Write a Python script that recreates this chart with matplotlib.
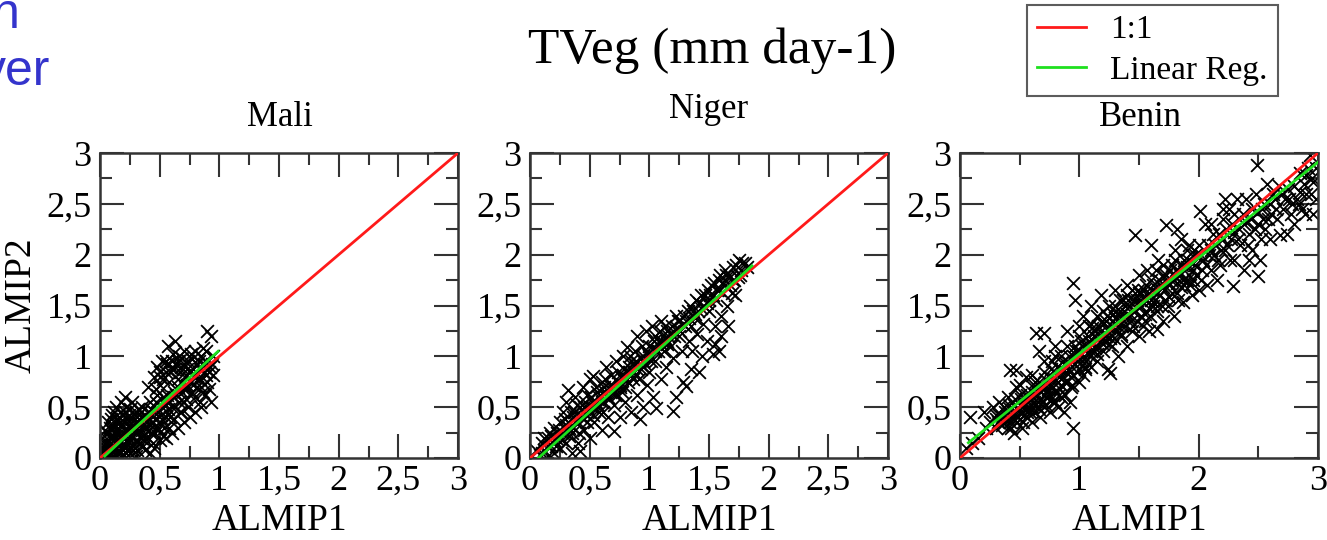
import matplotlib
matplotlib.use('Agg')
import matplotlib.pyplot as plt
from matplotlib.ticker import MultipleLocator
import numpy as np

plt.rcParams['font.family'] = ['Liberation Serif', 'DejaVu Serif']

# ---- data (ALMIP1, ALMIP2) ----
mali_pts = [
    (0.02, 0.02), (0.03, 0.08), (0.05, 0.03), (0.05, 0.15), (0.06, 0.25), (0.07, 0.35), (0.08, 0.05),
    (0.08, 0.2), (0.1, 0.1), (0.1, 0.3), (0.1, 0.42), (0.12, 0.02), (0.12, 0.18), (0.13, 0.5),
    (0.14, 0.28), (0.15, 0.08), (0.15, 0.38), (0.17, 0.15), (0.17, 0.45), (0.18, 0.55), (0.19, 0.25),
    (0.2, 0.03), (0.2, 0.35), (0.21, 0.6), (0.22, 0.12), (0.22, 0.5), (0.24, 0.2), (0.24, 0.42),
    (0.25, 0.05), (0.26, 0.3), (0.27, 0.55), (0.28, 0.15), (0.3, 0.25), (0.3, 0.45), (0.31, 0.08),
    (0.32, 0.35), (0.34, 0.2), (0.35, 0.5), (0.36, 0.12), (0.37, 0.3), (0.38, 0.42), (0.4, 0.2),
    (0.4, 0.7), (0.42, 0.32), (0.42, 0.55), (0.44, 0.15), (0.45, 0.8), (0.45, 0.45), (0.46, 0.25),
    (0.48, 0.62), (0.48, 0.9), (0.5, 0.35), (0.5, 0.72), (0.52, 0.5), (0.52, 0.95), (0.53, 0.22),
    (0.55, 0.85), (0.55, 0.4), (0.56, 0.62), (0.57, 1.1), (0.58, 0.3), (0.58, 0.75), (0.6, 0.95),
    (0.6, 0.5), (0.62, 0.88), (0.62, 0.38), (0.63, 1.15), (0.64, 0.62), (0.65, 0.78), (0.66, 1.0),
    (0.67, 0.45), (0.68, 0.9), (0.7, 0.55), (0.7, 1.05), (0.71, 0.7), (0.72, 0.82), (0.74, 0.5),
    (0.74, 0.95), (0.75, 0.62), (0.76, 1.02), (0.78, 0.72), (0.78, 0.88), (0.8, 0.6), (0.8, 1.05),
    (0.82, 0.78), (0.83, 0.95), (0.84, 0.55), (0.85, 0.7), (0.86, 1.08), (0.87, 0.85), (0.88, 0.62),
    (0.88, 0.95), (0.9, 0.75), (0.9, 1.25), (0.92, 0.9), (0.93, 1.2), (0.93, 0.55), (0.95, 0.82),
    (0.95, 1.0), (0.38, 0.08), (0.45, 0.1), (0.5, 0.18), (0.55, 0.2), (0.6, 0.25), (0.65, 0.3),
    (0.7, 0.35), (0.75, 0.4), (0.8, 0.45), (0.85, 0.5), (0.42, 0.05), (0.3, 0.02), (0.16, 0.05),
    (0.26, 0.1), (0.33, 0.15), (0.04, 0.05), (0.09, 0.12), (0.13, 0.1), (0.19, 0.08),
    (0.03, 0.12), (0.06, 0.06), (0.07, 0.18), (0.09, 0.28), (0.11, 0.22), (0.11, 0.06), (0.13, 0.35),
    (0.14, 0.15), (0.16, 0.25), (0.16, 0.4), (0.18, 0.1), (0.18, 0.32), (0.2, 0.2), (0.21, 0.45),
    (0.23, 0.28), (0.23, 0.08), (0.25, 0.38), (0.27, 0.2), (0.28, 0.32), (0.29, 0.1), (0.31, 0.4),
    (0.33, 0.28), (0.34, 0.45), (0.36, 0.22), (0.39, 0.35), (0.41, 0.45), (0.43, 0.25), (0.46, 0.38),
    (0.47, 0.55), (0.49, 0.3), (0.51, 0.42), (0.54, 0.3), (0.57, 0.48), (0.59, 0.4), (0.61, 0.6),
    (0.63, 0.5), (0.66, 0.55), (0.68, 0.45), (0.69, 0.65), (0.72, 0.58), (0.73, 0.72), (0.77, 0.65),
    (0.79, 0.8), (0.81, 0.7), (0.84, 0.88), (0.86, 0.65), (0.89, 0.82), (0.91, 0.68), (0.94, 0.92),
    (0.5, 0.85), (0.53, 0.78), (0.56, 0.92), (0.59, 0.85), (0.61, 1.02), (0.64, 0.92), (0.67, 0.85),
    (0.69, 0.98), (0.73, 0.88), (0.77, 0.97), (0.81, 0.92), (0.85, 1.0), (0.89, 1.05),
    (0.01, 0.05), (0.02, 0.1), (0.04, 0.18), (0.04, 0.28), (0.06, 0.12), (0.07, 0.02), (0.08, 0.3),
    (0.09, 0.38), (0.1, 0.2), (0.11, 0.32), (0.12, 0.45), (0.13, 0.25), (0.14, 0.05), (0.15, 0.3),
    (0.16, 0.18), (0.17, 0.35), (0.18, 0.22), (0.19, 0.42), (0.2, 0.12), (0.21, 0.28), (0.22, 0.38),
    (0.23, 0.18), (0.24, 0.32), (0.25, 0.48), (0.26, 0.22), (0.27, 0.38), (0.28, 0.08), (0.29, 0.28),
    (0.3, 0.35), (0.31, 0.18), (0.32, 0.48), (0.33, 0.38), (0.35, 0.28), (0.36, 0.4), (0.37, 0.18),
    (0.38, 0.3), (0.4, 0.38), (0.41, 0.28), (0.43, 0.48), (0.44, 0.35), (0.47, 0.3), (0.49, 0.45),
    (0.52, 0.38), (0.55, 0.52), (0.58, 0.55), (0.62, 0.65), (0.65, 0.7), (0.68, 0.75), (0.72, 0.68),
    (0.76, 0.75), (0.8, 0.82), (0.84, 0.78), (0.87, 0.92), (0.91, 0.85), (0.6, 0.88), (0.65, 0.95),
    (0.7, 0.92), (0.75, 0.85), (0.55, 0.95), (0.5, 0.8), (0.53, 0.6), (0.47, 0.68),
]

niger_pts = [
    (0.02, 0.02), (0.05, 0.08), (0.08, 0.03), (0.1, 0.15), (0.12, 0.08), (0.15, 0.2), (0.15, 0.02),
    (0.18, 0.12), (0.2, 0.3), (0.2, 0.05), (0.22, 0.2), (0.25, 0.35), (0.25, 0.1), (0.28, 0.25),
    (0.28, 0.45), (0.3, 0.15), (0.3, 0.55), (0.32, 0.67), (0.32, 0.35), (0.35, 0.05), (0.35, 0.25),
    (0.37, 0.45), (0.38, 0.6), (0.4, 0.15), (0.4, 0.35), (0.42, 0.07), (0.42, 0.5), (0.44, 0.7),
    (0.45, 0.28), (0.47, 0.42), (0.48, 0.62), (0.5, 0.2), (0.5, 0.78), (0.52, 0.5), (0.53, 0.81),
    (0.54, 0.35), (0.56, 0.65), (0.58, 0.45), (0.6, 0.28), (0.6, 0.75), (0.62, 0.55), (0.64, 0.9),
    (0.65, 0.4), (0.67, 0.68), (0.68, 0.82), (0.7, 0.27), (0.7, 0.52), (0.72, 0.95), (0.73, 0.62),
    (0.75, 0.4), (0.76, 0.8), (0.78, 1.0), (0.8, 0.55), (0.8, 0.7), (0.81, 1.09), (0.83, 0.9),
    (0.85, 0.45), (0.86, 0.78), (0.88, 1.05), (0.9, 0.62), (0.9, 1.2), (0.92, 0.38), (0.93, 0.88),
    (0.95, 1.0), (0.95, 0.5), (0.97, 1.25), (0.98, 0.72), (1.0, 1.1), (1.0, 0.85), (1.02, 1.3),
    (1.03, 0.6), (1.05, 0.95), (1.06, 0.49), (1.08, 1.15), (1.1, 1.35), (1.1, 0.78), (1.12, 1.05),
    (1.14, 0.9), (1.15, 1.25), (1.18, 1.1), (1.2, 0.46), (1.2, 0.98), (1.22, 1.4), (1.22, 0.6),
    (1.25, 1.2), (1.27, 1.05), (1.28, 0.75), (1.3, 1.3), (1.31, 0.71), (1.32, 1.45), (1.33, 1.15),
    (1.35, 0.88), (1.36, 1.05), (1.38, 1.38), (1.4, 1.22), (1.42, 0.85), (1.42, 1.52), (1.44, 1.0),
    (1.45, 1.32), (1.47, 1.6), (1.48, 1.15), (1.5, 1.45), (1.52, 1.7), (1.53, 1.02), (1.55, 1.3),
    (1.56, 1.55), (1.58, 1.75), (1.6, 1.4), (1.6, 1.2), (1.62, 1.62), (1.64, 1.8), (1.65, 1.5),
    (1.66, 1.3), (1.68, 1.7), (1.7, 1.88), (1.72, 1.6), (1.74, 1.78), (1.75, 1.95), (1.77, 1.85),
    (1.8, 1.92), (1.82, 1.88), (1.58, 1.05), (1.55, 1.12), (0.62, 0.7), (0.85, 0.95), (1.05, 1.2),
    (1.25, 1.35), (0.45, 0.5), (0.55, 0.55), (0.75, 0.72), (0.95, 0.9), (1.15, 1.12), (1.35, 1.3),
    (1.5, 1.55), (1.7, 1.75), (0.3, 0.32), (0.2, 0.18),
    (0.1, 0.05), (0.12, 0.2), (0.17, 0.25), (0.22, 0.12), (0.24, 0.28), (0.27, 0.18), (0.29, 0.38),
    (0.33, 0.22), (0.34, 0.45), (0.36, 0.3), (0.39, 0.52), (0.41, 0.25), (0.43, 0.4), (0.46, 0.55),
    (0.48, 0.35), (0.51, 0.6), (0.53, 0.42), (0.55, 0.7), (0.57, 0.52), (0.59, 0.62), (0.61, 0.45),
    (0.63, 0.78), (0.66, 0.58), (0.69, 0.72), (0.71, 0.62), (0.74, 0.85), (0.77, 0.65), (0.79, 0.88),
    (0.82, 0.75), (0.84, 1.0), (0.87, 0.85), (0.89, 0.95), (0.91, 0.78), (0.94, 1.1), (0.96, 0.92),
    (0.99, 1.02), (1.01, 0.95), (1.04, 1.15), (1.07, 1.05), (1.09, 1.25), (1.11, 1.15), (1.13, 1.3),
    (1.16, 1.2), (1.19, 1.3), (1.21, 1.2), (1.24, 1.35), (1.26, 1.25), (1.29, 1.4), (1.31, 1.35),
    (1.34, 1.5), (1.37, 1.45), (1.39, 1.55), (1.41, 1.45), (1.43, 1.6), (1.46, 1.5), (1.49, 1.65),
    (1.51, 1.6), (1.54, 1.72), (1.57, 1.65), (1.59, 1.8), (1.61, 1.72), (1.63, 1.85), (1.67, 1.8),
    (1.69, 1.62), (1.71, 1.75), (1.73, 1.9), (1.76, 1.8), (1.78, 1.92),
    (0.15, 0.12), (0.18, 0.22), (0.23, 0.25), (0.26, 0.2), (0.3, 0.28), (0.33, 0.3), (0.36, 0.4),
    (0.38, 0.35), (0.42, 0.42), (0.45, 0.38), (0.48, 0.5), (0.5, 0.45), (0.52, 0.55), (0.55, 0.48),
    (0.58, 0.6), (0.6, 0.55), (0.63, 0.65), (0.65, 0.6), (0.68, 0.7), (0.7, 0.65), (0.72, 0.78),
    (0.75, 0.7), (0.78, 0.82), (0.8, 0.78), (0.83, 0.85), (0.85, 0.82), (0.88, 0.92), (0.9, 0.88),
    (0.93, 0.98), (0.95, 0.95), (0.98, 1.05), (1.0, 1.0), (1.03, 1.08), (1.05, 1.05), (1.08, 1.1),
    (1.1, 1.12), (1.13, 1.18), (1.15, 1.15), (1.18, 1.22), (1.2, 1.25), (1.23, 1.28), (1.28, 1.32),
    (1.33, 1.38), (1.38, 1.42), (1.43, 1.48), (1.48, 1.52), (1.53, 1.6), (1.58, 1.65), (1.63, 1.7),
    (1.68, 1.78),
]

benin_pts = [
    (0.05, 0.1), (0.08, 0.4), (0.1, 0.15), (0.15, 0.2), (0.2, 0.45), (0.22, 0.3), (0.25, 0.35),
    (0.28, 0.5), (0.3, 0.3), (0.3, 0.42), (0.33, 0.55), (0.42, 0.87), (0.47, 0.87), (0.36, 0.35),
    (0.38, 0.45), (0.4, 0.6), (0.4, 0.3), (0.43, 0.4), (0.45, 0.52), (0.45, 0.25), (0.47, 0.7),
    (0.48, 0.35), (0.5, 0.45), (0.5, 0.62), (0.52, 0.3), (0.53, 0.55), (0.55, 0.8), (0.55, 0.4),
    (0.64, 1.23), (0.7, 1.23), (0.58, 0.5), (0.6, 0.65), (0.6, 0.35), (0.62, 0.45), (0.63, 0.75),
    (0.65, 0.55), (0.66, 1.05), (0.67, 0.4), (0.68, 0.65), (0.7, 0.5), (0.7, 0.85), (0.72, 0.6),
    (0.75, 0.45), (0.75, 0.72), (0.77, 0.95), (0.78, 0.55), (0.8, 0.65), (0.8, 1.1), (0.82, 0.5),
    (0.83, 0.8), (0.85, 1.0), (0.85, 0.6), (0.87, 0.45), (0.88, 0.75), (0.9, 0.9), (0.9, 1.25),
    (0.92, 0.55), (0.93, 0.7), (0.95, 1.72), (0.95, 0.3), (0.96, 1.55), (0.97, 1.05), (0.98, 0.85),
    (1.0, 0.75), (1.0, 1.2), (1.02, 0.95), (1.03, 1.4), (1.05, 0.88), (1.06, 1.1), (1.08, 1.3),
    (1.1, 0.9), (1.1, 1.5), (1.12, 1.05), (1.13, 1.25), (1.15, 0.95), (1.15, 1.4), (1.17, 1.15),
    (1.18, 1.6), (1.2, 1.05), (1.2, 1.32), (1.22, 1.2), (1.24, 0.88), (1.25, 1.5), (1.26, 0.84),
    (1.27, 1.1), (1.28, 1.35), (1.3, 1.25), (1.3, 1.65), (1.32, 1.0), (1.34, 1.45), (1.35, 1.2),
    (1.37, 1.55), (1.38, 1.3), (1.4, 1.1), (1.4, 1.7), (1.42, 1.4), (1.44, 1.25), (1.47, 2.19),
    (1.46, 1.55), (1.48, 1.35), (1.5, 1.8), (1.5, 1.2), (1.52, 1.5), (1.54, 1.65), (1.55, 1.35),
    (1.57, 1.85), (1.58, 1.25), (1.6, 1.55), (1.6, 2.1), (1.62, 1.7), (1.65, 1.27), (1.65, 1.45),
    (1.66, 1.95), (1.68, 1.6), (1.7, 1.8), (1.7, 1.35), (1.73, 2.29), (1.74, 1.5), (1.75, 1.7),
    (1.82, 2.25), (1.78, 1.9), (1.79, 1.4), (1.8, 2.05), (1.82, 1.62), (1.84, 1.8), (1.85, 2.15),
    (1.87, 1.53), (1.88, 1.95), (1.9, 1.75), (1.92, 2.1), (1.94, 1.6), (1.95, 1.85), (1.97, 2.0),
    (2.0, 1.65), (2.01, 2.43), (2.02, 1.75), (2.04, 1.95), (2.05, 2.3), (2.07, 1.7), (2.08, 2.1),
    (2.1, 1.85), (2.22, 2.55), (2.13, 2.0), (2.15, 1.75), (2.17, 2.2), (2.18, 1.9), (2.2, 2.35),
    (2.22, 2.05), (2.29, 1.69), (2.25, 2.45), (2.27, 2.15), (2.3, 1.95), (2.3, 2.4), (2.32, 2.55),
    (2.35, 2.1), (2.38, 1.85), (2.38, 2.3), (2.4, 2.55), (2.42, 1.95), (2.42, 2.2), (2.45, 2.45),
    (2.45, 2.05), (2.48, 2.6), (2.49, 2.88), (2.5, 2.3), (2.5, 1.79), (2.51, 1.95), (2.52, 2.15),
    (2.55, 2.5), (2.57, 2.7), (2.58, 2.35), (2.6, 2.15), (2.62, 2.6), (2.65, 2.45), (2.67, 2.68),
    (2.68, 2.19), (2.74, 2.2), (2.72, 2.55), (2.75, 2.65), (2.77, 2.4), (2.85, 2.8), (2.8, 2.3),
    (2.82, 2.55), (2.85, 2.62), (2.87, 2.45), (2.93, 2.98), (2.9, 2.6), (2.96, 2.4), (2.95, 2.75),
    (2.96, 2.71), (2.98, 2.55), (2.98, 2.85),
    (0.35, 0.4), (0.42, 0.48), (0.5, 0.52), (0.55, 0.58), (0.6, 0.6), (0.65, 0.68), (0.7, 0.7),
    (0.75, 0.8), (0.8, 0.85), (0.85, 0.88), (0.9, 0.95), (0.95, 1.0), (1.0, 1.02), (1.05, 1.08),
    (1.1, 1.12), (1.15, 1.18), (1.2, 1.22), (1.25, 1.28), (1.3, 1.32), (1.35, 1.38), (1.4, 1.42),
    (1.45, 1.45), (1.5, 1.5), (1.55, 1.55), (1.6, 1.6), (1.65, 1.62), (1.7, 1.68), (1.75, 1.72),
    (1.8, 1.78), (1.85, 1.82), (1.9, 1.88), (1.95, 1.92), (2.0, 1.98), (2.1, 2.05), (2.2, 2.15),
    (2.3, 2.22), (2.4, 2.32), (2.5, 2.42), (2.6, 2.5), (2.7, 2.6), (2.8, 2.68), (2.9, 2.78),
    (0.45, 0.38), (0.55, 0.48), (0.65, 0.5), (0.75, 0.62), (0.85, 0.72), (0.95, 0.82), (1.05, 0.9),
    (1.15, 1.02), (1.25, 1.12), (1.35, 1.22), (1.45, 1.3), (1.55, 1.42), (1.65, 1.5), (1.75, 1.58),
    (1.85, 1.68), (1.95, 1.75), (0.5, 0.72), (0.6, 0.82), (0.7, 0.95), (0.8, 1.0), (0.9, 1.1),
    (1.0, 1.3), (1.1, 1.32), (1.2, 1.45), (1.3, 1.5), (1.4, 1.6), (1.5, 1.62), (1.6, 1.75),
    (1.7, 1.9), (1.8, 1.95), (1.9, 2.05), (2.0, 2.1), (2.1, 2.3), (2.2, 2.45),
    (0.32, 0.35), (0.35, 0.32), (0.38, 0.38), (0.4, 0.45), (0.42, 0.35), (0.44, 0.45), (0.46, 0.42),
    (0.48, 0.48), (0.5, 0.38), (0.52, 0.45), (0.54, 0.52), (0.56, 0.45), (0.58, 0.58), (0.6, 0.5),
    (0.62, 0.55), (0.64, 0.62), (0.66, 0.48), (0.68, 0.58), (0.7, 0.62), (0.72, 0.52), (0.74, 0.68),
    (0.76, 0.58), (0.78, 0.7), (0.8, 0.55), (0.82, 0.75), (0.84, 0.68), (0.86, 0.8), (0.88, 0.62),
    (0.9, 0.75), (0.92, 0.85), (0.94, 0.72), (0.96, 0.92), (0.98, 0.95), (1.0, 0.88), (1.02, 1.1),
    (1.04, 1.0), (1.06, 0.95), (1.08, 1.15), (1.1, 1.05), (1.12, 1.2), (1.14, 1.1), (1.16, 1.3),
    (1.18, 1.2), (1.2, 1.12), (1.22, 1.35), (1.24, 1.25), (1.26, 1.18), (1.28, 1.42), (1.3, 1.38),
    (1.32, 1.3), (1.34, 1.55), (1.36, 1.42), (1.38, 1.5), (1.42, 1.5), (1.44, 1.65), (1.48, 1.55),
    (1.52, 1.4), (1.56, 1.7), (1.58, 1.48), (1.62, 1.5), (1.64, 1.85), (1.68, 1.7), (1.72, 1.55),
    (1.76, 1.85), (1.78, 1.62), (1.82, 1.72), (1.86, 1.9), (1.88, 1.7), (1.92, 1.8), (1.96, 2.05),
    (1.98, 1.8), (2.02, 2.0), (2.06, 1.9), (2.12, 2.2), (2.16, 1.95), (2.24, 2.1), (2.28, 2.3),
    (2.34, 2.25), (2.44, 2.35), (2.54, 2.35), (2.64, 2.55), (2.78, 2.5), (2.88, 2.7), (2.92, 2.85),
    (0.3, 0.38), (0.33, 0.42), (0.37, 0.5), (0.39, 0.4), (0.41, 0.52), (0.43, 0.3), (0.46, 0.58),
    (0.49, 0.4), (0.51, 0.58), (0.53, 0.35), (0.56, 0.62), (0.59, 0.45), (0.61, 0.7), (0.63, 0.52),
    (0.66, 0.75), (0.69, 0.55), (0.71, 0.78), (0.73, 0.65), (0.76, 0.88), (0.79, 0.78), (0.81, 0.9),
    (0.83, 0.62), (0.86, 0.95), (0.89, 0.85), (0.91, 1.0), (0.93, 0.8), (0.96, 1.1), (0.99, 1.05),
    (1.01, 1.15), (1.03, 0.82), (1.07, 1.2), (1.09, 1.0), (1.11, 1.28), (1.13, 1.08), (1.16, 1.22),
    (1.19, 1.35), (1.21, 1.15), (1.23, 1.4), (1.27, 1.3), (1.29, 1.18), (1.31, 1.45), (1.33, 1.35),
    (1.36, 1.3), (1.39, 1.4), (1.41, 1.55), (1.43, 1.35), (1.47, 1.45), (1.49, 1.65), (1.51, 1.55),
    (1.53, 1.3), (1.57, 1.6), (1.59, 1.4), (1.61, 1.65), (1.63, 1.55), (1.67, 1.75), (1.69, 1.5),
    (1.71, 1.65), (1.73, 1.8), (1.77, 1.75), (1.81, 1.85), (1.83, 1.55), (1.87, 1.75), (1.91, 1.95),
    (1.93, 1.7), (1.97, 1.9), (2.03, 1.85), (2.09, 2.0), (2.14, 2.1), (2.19, 2.05), (2.23, 2.25),
    (2.26, 1.95), (2.33, 2.15), (2.37, 2.4), (2.41, 2.1), (2.47, 2.25), (2.53, 2.45), (2.56, 2.25),
    (2.61, 2.4), (2.66, 2.35), (2.71, 2.45), (2.76, 2.55), (2.84, 2.5), (2.89, 2.4), (2.94, 2.6),
]

# linear regression end points (x0, y0, x1, y1)
mali_reg = (0.04, 0.02, 0.99, 1.05)
niger_reg = (0.07, 0.0, 1.86, 1.89)
benin_reg = (0.07, 0.15, 3.0, 2.91)

regions = ['Mali', 'Niger', 'Benin']
all_pts = [mali_pts, niger_pts, benin_pts]
all_reg = [mali_reg, niger_reg, benin_reg]
x_major = [0.5, 0.5, 1.0]
x_minor = [0.25, 0.25, 0.5]
title_pos = [(280, 118), (709, 110), (1140, 117)]


def fmt(v, pos):
    if abs(v - round(v)) < 1e-9:
        return str(int(round(v)))
    return ('%g' % v).replace('.', ',')


W, H = 1327, 540
fig = plt.figure(figsize=(W / 100, H / 100), dpi=100)

lefts = [100, 530, 960]
axs = []
for i, name in enumerate(regions):
    l = lefts[i]
    ax = fig.add_axes([l / W, 1 - 458 / H, 358 / W, 305 / H])
    axs.append(ax)
    pts = np.array(all_pts[i])
    ax.scatter(pts[:, 0], pts[:, 1], marker='x', s=85, c='black', linewidths=1.3, zorder=2)
    red, = ax.plot([0, 3], [0, 3], color='#ff1a1a', lw=2.0, zorder=3, label='1:1')
    r = all_reg[i]
    green, = ax.plot([r[0], r[2]], [r[1], r[3]], color='#1ee01e', lw=2.0, zorder=4, label='Linear Reg.')
    ax.set_xlim(0, 3)
    ax.set_ylim(0, 3)
    ax.xaxis.set_major_locator(MultipleLocator(x_major[i]))
    ax.xaxis.set_minor_locator(MultipleLocator(x_minor[i]))
    ax.yaxis.set_major_locator(MultipleLocator(0.5))
    ax.yaxis.set_minor_locator(MultipleLocator(0.25))
    ax.xaxis.set_major_formatter(plt.FuncFormatter(fmt))
    ax.yaxis.set_major_formatter(plt.FuncFormatter(fmt))
    ax.tick_params(which='both', direction='in', top=True, right=True, width=1.5,
                   labelsize=26, colors='#333333', labelcolor='black')
    ax.tick_params(which='major', length=17)
    ax.tick_params(which='minor', length=8.5)
    ax.tick_params(axis='x', which='major', pad=5)
    ax.tick_params(axis='y', which='major', pad=6)
    for sp in ax.spines.values():
        sp.set_linewidth(1.8)
        sp.set_color('#333333')
    ax.set_xlabel('ALMIP1', fontsize=27, labelpad=4)
    fig.text(title_pos[i][0] / W, 1 - title_pos[i][1] / H, name, fontsize=25,
             ha='center', va='center')

axs[0].set_ylabel('ALMIP2', fontsize=27, labelpad=6)

fig.text(712 / W, 1 - 51 / H, 'TVeg (mm day-1)', fontsize=37, ha='center', va='center')

# leftover slide text in the top left corner, cut by the image edge
fig.text(20 / W, 1 - 28 / H, 'n', fontsize=36, color='#3434cc', family='Liberation Sans',
         ha='right', va='baseline')
fig.text(50 / W, 1 - 85 / H, 'ver', fontsize=36, color='#3434cc', family='Liberation Sans',
         ha='right', va='baseline')

leg = fig.legend(handles=[red, green], loc='upper right', bbox_to_anchor=(1278 / W, 1 - 5 / H),
                 fontsize=24, frameon=True, fancybox=False, borderpad=0.3, labelspacing=0.3,
                 handlelength=1.45, handletextpad=0.75, borderaxespad=0)
leg.get_frame().set_edgecolor('#333333')
leg.get_frame().set_linewidth(1.5)

fig.savefig('out.png', dpi=100)
